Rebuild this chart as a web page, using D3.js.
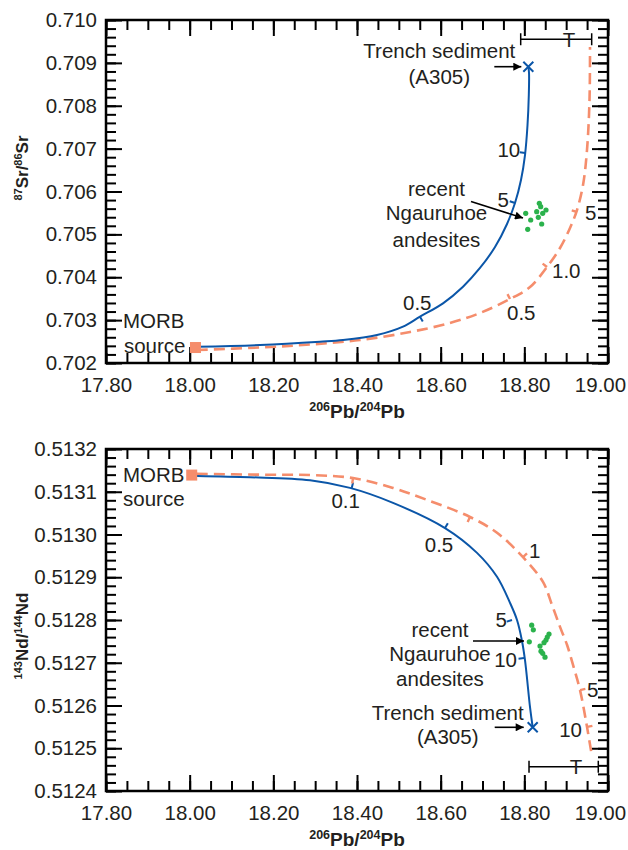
<!DOCTYPE html>
<html><head><meta charset="utf-8">
<script src="https://cdn.jsdelivr.net/npm/d3@7"></script>
<style>
html,body{margin:0;padding:0;background:#fff;}
svg{display:block;font-family:"Liberation Sans",Arial,sans-serif;}
</style></head><body>
<svg id="chart" width="628" height="850"></svg>
<script>
// ================= DATA =================
const xTicks = [17.80, 18.00, 18.20, 18.40, 18.60, 18.80, 19.00];
const xTickLabels = ["17.80", "18.00", "18.20", "18.40", "18.60", "18.80", "19.00"];
const srTicks = [0.702, 0.703, 0.704, 0.705, 0.706, 0.707, 0.708, 0.709, 0.710];
const srTickLabels = ["0.702", "0.703", "0.704", "0.705", "0.706", "0.707", "0.708", "0.709", "0.710"];
const ndTicks = [0.5124, 0.5125, 0.5126, 0.5127, 0.5128, 0.5129, 0.5130, 0.5131, 0.5132];
const ndTickLabels = ["0.5124", "0.5125", "0.5126", "0.5127", "0.5128", "0.5129", "0.5130", "0.5131", "0.5132"];

// Sr–Pb panel
const srMorb = [18.0139, 0.702361];
const srTrench = [18.8095, 0.708911];
const srBlue = [
  [18.0175, 0.702380], [18.1681, 0.702420], [18.3116, 0.702497], [18.3665, 0.702536],
  [18.4478, 0.702653], [18.5100, 0.702847], [18.5506, 0.703080], [18.6056, 0.703392],
  [18.6534, 0.703780], [18.6940, 0.704216], [18.7299, 0.704705], [18.7586, 0.705242],
  [18.7777, 0.705732], [18.7920, 0.706268], [18.8016, 0.706851], [18.8076, 0.707551],
  [18.8107, 0.708251], [18.8112, 0.708764], [18.8095, 0.708911]
];
const srOrange = [
  [18.0175, 0.702303], [18.1681, 0.702361], [18.2877, 0.702431], [18.4072, 0.702536],
  [18.5267, 0.702723], [18.6223, 0.702933], [18.6940, 0.703166], [18.7658, 0.703493],
  [18.8136, 0.703773], [18.8542, 0.704239], [18.8853, 0.704682], [18.9092, 0.705149],
  [18.9259, 0.705568], [18.9403, 0.706152], [18.9498, 0.706968], [18.9558, 0.708134],
  [18.9570, 0.709370]
];
const srBlueTicks = [[18.5506, 0.703080], [18.7777, 0.705732], [18.8021, 0.706898]];
const srBlueTickLabels = ["0.5", "5", "10"];
const srOrangeTicks = [[18.7658, 0.703493], [18.8542, 0.704239], [18.9259, 0.705522]];
const srOrangeTickLabels = ["0.5", "1.0", "5"];
const srAndesites = [
  [18.8358, 0.705725], [18.8391, 0.705645], [18.8518, 0.705568], [18.8296, 0.705529],
  [18.8439, 0.705492], [18.8033, 0.705492], [18.8334, 0.705398], [18.8152, 0.705335],
  [18.8415, 0.705242], [18.8081, 0.705118]
];
const srTBar = [18.7913, 18.9610, 0.709550];

// Nd–Pb panel
const ndMorb = [18.0049, 0.513139];
const ndTrench = [18.8200, 0.512549];
const ndBlue = [
  [18.0175, 0.513137], [18.1442, 0.513134], [18.2877, 0.513127], [18.3833, 0.513109],
  [18.4861, 0.513074], [18.6104, 0.513015], [18.6869, 0.512957], [18.7347, 0.512901],
  [18.7658, 0.512840], [18.7825, 0.512800], [18.7944, 0.512751], [18.8016, 0.512706],
  [18.8136, 0.512596], [18.8200, 0.512549]
];
const ndOrange = [
  [18.0175, 0.513142], [18.1680, 0.513140], [18.2877, 0.513139], [18.3905, 0.513132],
  [18.4861, 0.513109], [18.5673, 0.513081], [18.6701, 0.513041], [18.7347, 0.513004],
  [18.7968, 0.512947], [18.8446, 0.512889], [18.8662, 0.512835], [18.8853, 0.512784],
  [18.9020, 0.512742], [18.9164, 0.512695], [18.9331, 0.512636], [18.9498, 0.512550],
  [18.9618, 0.512480]
];
const ndBlueTicks = [[18.3873, 0.513109], [18.6104, 0.513015], [18.7705, 0.512800], [18.7992, 0.512711]];
const ndBlueTickLabels = ["0.1", "0.5", "5", "10"];
const ndOrangeTicks = [[18.3905, 0.513132], [18.6701, 0.513041], [18.7968, 0.512947], [18.9331, 0.512636], [18.9498, 0.512550]];
const ndOrangeTickLabels = ["", "", "1", "5", "10"];
const ndAndesites = [
  [18.8176, 0.512788], [18.8215, 0.512777], [18.8590, 0.512767], [18.8549, 0.512760],
  [18.8518, 0.512753], [18.8119, 0.512749], [18.8470, 0.512747], [18.8375, 0.512739],
  [18.8398, 0.512727], [18.8439, 0.512722], [18.8494, 0.512713]
];
const ndTBar = [18.8112, 18.9768, 0.5124568];

// ================= LAYOUT / STYLE =================
const TXT = "#231f20";
const BLUE = "#0b56a8";
const ORANGE = "#f58d6c";
const GREEN = "#2bb24c";
const FS = 20.5;

const xScale = d3.scaleLinear().domain([17.8, 19.0]).range([106, 608]);
const ySr = d3.scaleLinear().domain([0.702, 0.710]).range([363, 20]);
const yNd = d3.scaleLinear().domain([0.5124, 0.5132]).range([791, 449]);

const svg = d3.select("#chart");
const defs = svg.append("defs");
defs.append("marker").attr("id", "arr").attr("viewBox", "0 0 10 10")
  .attr("refX", 10).attr("refY", 5).attr("markerWidth", 11).attr("markerHeight", 8)
  .attr("markerUnits", "userSpaceOnUse").attr("orient", "auto")
  .append("path").attr("d", "M0,0L10,5L0,10Z").attr("fill", "#000");

function styleAxis(s) {
  s.attr("font-family", null).attr("font-size", null);
  s.select(".domain").remove();
  s.selectAll("line").attr("stroke", "#000").attr("stroke-width", 2);
  s.selectAll("text").attr("fill", TXT).style("font-size", FS + "px");
}

function drawAxes(y, yTicks, yTickLabels, minorStep) {
  const g = svg.append("g");
  const [x0, x1] = xScale.range();
  const [yb, yt] = y.range();
  const xMinor = d3.range(0, 25).map(i => 17.8 + i * 0.05);
  const [d0, d1] = y.domain();
  const n = Math.round((d1 - d0) / minorStep);
  const yMinor = d3.range(0, n + 1).map(i => d0 + i * minorStep);

  g.append("g").attr("transform", `translate(0,${yb})`)
    .call(d3.axisBottom(xScale).tickValues(xMinor).tickSize(-10).tickFormat("")).call(styleAxis);
  const xb = g.append("g").attr("transform", `translate(0,${yb})`)
    .call(d3.axisBottom(xScale).tickValues(xTicks).tickSize(-16).tickPadding(14)
      .tickFormat((d, i) => xTickLabels[i])).call(styleAxis);
  // last label is pulled inside the page edge, as in the original
  xb.selectAll(".tick text").filter((d, i) => i === xTicks.length - 1).attr("x", -8);
  g.append("g").attr("transform", `translate(0,${yt})`)
    .call(d3.axisTop(xScale).tickValues(xMinor).tickSize(-10).tickFormat("")).call(styleAxis);
  g.append("g").attr("transform", `translate(0,${yt})`)
    .call(d3.axisTop(xScale).tickValues(xTicks).tickSize(-16).tickFormat("")).call(styleAxis);

  g.append("g").attr("transform", `translate(${x0},0)`)
    .call(d3.axisLeft(y).tickValues(yMinor).tickSize(-10).tickFormat("")).call(styleAxis);
  g.append("g").attr("transform", `translate(${x0},0)`)
    .call(d3.axisLeft(y).tickValues(yTicks).tickSize(-16).tickPadding(9)
      .tickFormat((d, i) => yTickLabels[i])).call(styleAxis);
  g.append("g").attr("transform", `translate(${x1},0)`)
    .call(d3.axisRight(y).tickValues(yMinor).tickSize(-10).tickFormat("")).call(styleAxis);
  g.append("g").attr("transform", `translate(${x1},0)`)
    .call(d3.axisRight(y).tickValues(yTicks).tickSize(-16).tickFormat("")).call(styleAxis);

  g.append("rect").attr("x", x0).attr("y", yt).attr("width", x1 - x0).attr("height", yb - yt)
    .attr("fill", "none").attr("stroke", "#000").attr("stroke-width", 2.5);
}

function lineGen(y) {
  return d3.line().x(d => xScale(d[0])).y(d => y(d[1])).curve(d3.curveCatmullRom.alpha(0.5));
}

const HINT = { up: [0, -1], down: [0, 1], left: [-1, 0], right: [1, 0] };
function drawCurveTicks(y, curve, ticks, labels, color, width, hints, offs) {
  const pts = curve.map(d => [xScale(d[0]), y(d[1])]);
  ticks.forEach((t, k) => {
    const p = [xScale(t[0]), y(t[1])];
    let bi = 0, bd = Infinity;
    pts.forEach((q, i) => { const dd = (q[0] - p[0]) ** 2 + (q[1] - p[1]) ** 2; if (dd < bd) { bd = dd; bi = i; } });
    const a = pts[Math.max(0, bi - 1)], b = pts[Math.min(pts.length - 1, bi + 1)];
    let dx = b[0] - a[0], dy = b[1] - a[1];
    const L = Math.hypot(dx, dy); dx /= L; dy /= L;
    let nx = dy, ny = -dx;
    const h = HINT[hints[k]];
    if (nx * h[0] + ny * h[1] < 0) { nx = -nx; ny = -ny; }
    svg.append("line").attr("x1", p[0]).attr("y1", p[1])
      .attr("x2", p[0] + nx * 5.5).attr("y2", p[1] + ny * 5.5)
      .attr("stroke", color).attr("stroke-width", width);
    if (labels[k] && offs[k]) {
      svg.append("text").attr("x", p[0] + offs[k][0]).attr("y", p[1] + offs[k][1])
        .attr("text-anchor", offs[k][2]).attr("fill", TXT).style("font-size", FS + "px")
        .text(labels[k]);
    }
  });
}

function drawSquare(y, pt) {
  const s = 11;
  svg.append("rect").attr("x", xScale(pt[0]) - s / 2).attr("y", y(pt[1]) - s / 2)
    .attr("width", s).attr("height", s).attr("fill", ORANGE);
}
function drawCross(y, pt) {
  const cx = xScale(pt[0]), cy = y(pt[1]), r = 5;
  svg.append("path").attr("d", `M${cx - r},${cy - r}L${cx + r},${cy + r}M${cx - r},${cy + r}L${cx + r},${cy - r}`)
    .attr("stroke", BLUE).attr("stroke-width", 2).attr("fill", "none");
}
function text(x, yv, str, anchor) {
  svg.append("text").attr("x", x).attr("y", yv).attr("text-anchor", anchor || "start")
    .attr("fill", TXT).style("font-size", FS + "px").text(str);
}
function arrow(xa, ya, xb, yb) {
  svg.append("line").attr("x1", xa).attr("y1", ya).attr("x2", xb).attr("y2", yb)
    .attr("stroke", "#000").attr("stroke-width", 1.6).attr("marker-end", "url(#arr)");
}
function tBar(y, bar) {
  const xa = xScale(bar[0]), xb = xScale(bar[1]), yy = y(bar[2]);
  svg.append("path").attr("d", `M${xa},${yy}L${xb},${yy}M${xa},${yy - 6}L${xa},${yy + 6}M${xb},${yy - 6}L${xb},${yy + 6}`)
    .attr("stroke", "#000").attr("stroke-width", 1.5).attr("fill", "none");
  const xm = xa + (xb - xa) * 0.68;
  svg.append("text").attr("x", xm).attr("y", yy + 7.5).attr("text-anchor", "middle")
    .attr("fill", TXT).style("font-size", FS + "px").text("T");
}
function supLabel(x, yv, parts, rotate, size, supSize) {
  const t = svg.append("text").attr("text-anchor", "middle").attr("fill", TXT)
    .style("font-weight", "bold").style("font-size", size + "px")
    .attr("transform", `translate(${x},${yv})` + (rotate ? " rotate(-90)" : ""));
  let up = false;
  parts.forEach(([s, sup]) => {
    const ts = t.append("tspan").text(s);
    if (sup && !up) { ts.attr("dy", -size * 0.38).style("font-size", supSize + "px"); up = true; }
    else if (sup) { ts.style("font-size", supSize + "px"); }
    else if (!sup && up) { ts.attr("dy", size * 0.38); up = false; }
  });
}

// ================= TOP PANEL (Sr) =================
drawAxes(ySr, srTicks, srTickLabels, 0.0002);
svg.append("path").datum(srOrange).attr("d", lineGen(ySr)).attr("fill", "none")
  .attr("stroke", ORANGE).attr("stroke-width", 2.6).attr("stroke-dasharray", "11,6");
svg.append("path").datum(srBlue).attr("d", lineGen(ySr)).attr("fill", "none")
  .attr("stroke", BLUE).attr("stroke-width", 2);
drawCurveTicks(ySr, srBlue, srBlueTicks, srBlueTickLabels, BLUE, 2,
  ["down", "left", "left"], [[-17, -6.5, "start"], [-6, 4, "end"], [-5, 4, "end"]]);
drawCurveTicks(ySr, srOrange, srOrangeTicks, srOrangeTickLabels, ORANGE, 2.4,
  ["left", "left", "left"], [[-3, 21, "start"], [5, 11, "start"], [8, 8, "start"]]);
svg.append("g").selectAll("circle").data(srAndesites).join("circle")
  .attr("cx", d => xScale(d[0])).attr("cy", d => ySr(d[1])).attr("r", 2.6).attr("fill", GREEN);
drawSquare(ySr, srMorb);
drawCross(ySr, srTrench);
tBar(ySr, srTBar);
{
  const mx = xScale(srMorb[0]), my = ySr(srMorb[1]);
  text(mx - 72.5, my - 19.5, "MORB");
  text(mx - 71.5, my + 5, "source");
  const tx = xScale(srTrench[0]), ty = ySr(srTrench[1]);
  text(tx - 89, ty - 8.7, "Trench sediment", "middle");
  text(tx - 89, ty + 17.3, "(A305)", "middle");
  arrow(tx - 34, ty, tx - 7, ty);
  text(436.5, 196, "recent", "middle");
  text(436.5, 220, "Ngauruhoe", "middle");
  text(436.5, 247, "andesites", "middle");
  arrow(471, 201.5, 523, 218);
}
supLabel(28, 168, [["87", true], ["Sr", false], ["/", false], ["86", true], ["Sr", false]], true, 17, 11);
supLabel(357, 418, [["206", true], ["Pb", false], ["/", false], ["204", true], ["Pb", false]], false, 19, 12.5);

// ================= BOTTOM PANEL (Nd) =================
drawAxes(yNd, ndTicks, ndTickLabels, 0.00002);
svg.append("path").datum(ndOrange).attr("d", lineGen(yNd)).attr("fill", "none")
  .attr("stroke", ORANGE).attr("stroke-width", 2.6).attr("stroke-dasharray", "11,6");
svg.append("path").datum(ndBlue).attr("d", lineGen(yNd)).attr("fill", "none")
  .attr("stroke", BLUE).attr("stroke-width", 2);
drawCurveTicks(yNd, ndBlue, ndBlueTicks, ndBlueTickLabels, BLUE, 2,
  ["up", "up", "left", "left"], [[-6, 20, "middle"], [-6, 24, "middle"], [-5, 7, "end"], [-7, 9, "end"]]);
drawCurveTicks(yNd, ndOrange, ndOrangeTicks, ndOrangeTickLabels, ORANGE, 2.4,
  ["down", "down", "right", "right", "right"], [null, null, [6, 1, "start"], [7, 7, "start"], [-5, 10, "end"]]);
svg.append("g").selectAll("circle").data(ndAndesites).join("circle")
  .attr("cx", d => xScale(d[0])).attr("cy", d => yNd(d[1])).attr("r", 2.6).attr("fill", GREEN);
drawSquare(yNd, ndMorb);
drawCross(yNd, ndTrench);
tBar(yNd, ndTBar);
{
  const mx = xScale(ndMorb[0]), my = yNd(ndMorb[1]);
  text(mx - 68.7, my + 7, "MORB");
  text(mx - 68.7, my + 31, "source");
  const tx = xScale(ndTrench[0]), ty = yNd(ndTrench[1]);
  text(tx - 85, ty - 7.3, "Trench sediment", "middle");
  text(tx - 85, ty + 16.7, "(A305)", "middle");
  arrow(tx - 38, ty, tx - 9, ty);
  text(440, 637, "recent", "middle");
  text(440, 661, "Ngauruhoe", "middle");
  text(440, 686, "andesites", "middle");
  arrow(473, 641, 524, 641);
}
supLabel(28, 636, [["143", true], ["Nd", false], ["/", false], ["144", true], ["Nd", false]], true, 17, 11);
supLabel(357, 846, [["206", true], ["Pb", false], ["/", false], ["204", true], ["Pb", false]], false, 19, 12.5);
</script>
</body></html>
